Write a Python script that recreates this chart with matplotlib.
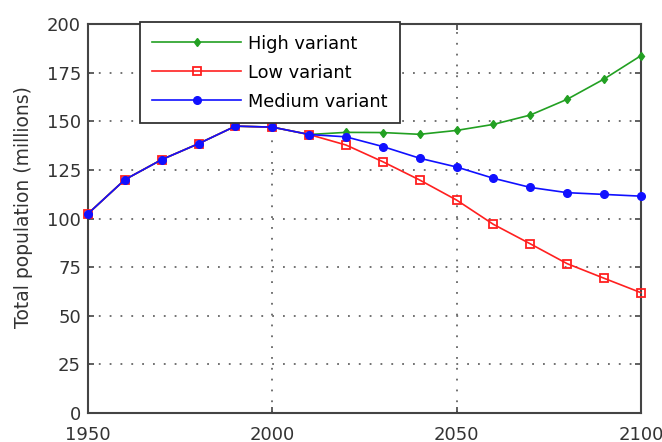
import numpy as np
import matplotlib.pyplot as plt

plt.rcParams['font.family'] = ['DejaVu Sans']

years = [1950, 1960, 1970, 1980, 1990, 2000, 2010, 2020, 2030, 2040,
         2050, 2060, 2070, 2080, 2090, 2100]

medium = [102.5, 120, 130.3, 138.5, 147.5, 147, 143.2, 142, 137, 131,
          126.5, 120.7, 116, 113.3, 112.4, 111.5]
high = [102.5, 120, 130.3, 138.5, 147.5, 147, 143.2, 144.3, 144.2, 143.3,
        145.3, 148.4, 153.2, 161.3, 171.7, 183.7]
low = [102.5, 120, 130.3, 138.5, 147.5, 147, 143.2, 137.8, 129.2, 119.8,
       109.5, 97, 87, 76.8, 69.3, 61.9]

fig = plt.figure(figsize=(6.62, 4.42), dpi=100)
ax = fig.add_axes([0.133, 0.0656, 0.835, 0.880])

ax.plot(years, high, '-', color='#22a022', marker='d', markersize=4.5,
        linewidth=1.2, label='High variant', clip_on=False, zorder=3)
ax.plot(years, low, '-', color='#ff2020', marker='s', markersize=5.5,
        markerfacecolor='none', markeredgewidth=1.3, linewidth=1.2,
        label='Low variant', clip_on=False, zorder=4)
ax.plot(years, medium, '-', color='#1010ff', marker='o', markersize=5.5,
        linewidth=1.2, label='Medium variant', clip_on=False, zorder=5)

ax.set_xlim(1950, 2100)
ax.set_ylim(0, 200)
ax.set_xticks([1950, 2000, 2050, 2100])
ax.set_yticks(np.arange(0, 201, 25))
ax.tick_params(direction='in', length=4, width=1.2, labelsize=13,
               labelcolor='#333333', color='#444444')
ax.tick_params(axis='x', pad=9)
ax.tick_params(axis='y', pad=5)
ax.tick_params(top=True, right=True)
ax.grid(True, linestyle=(0, (1, 5)), color='#666666', linewidth=1.3)
for s in ax.spines.values():
    s.set_linewidth(1.5)
    s.set_color('#444444')

ax.set_ylabel('Total population (millions)', fontsize=13.5, color='#333333')
ax.yaxis.set_label_coords(-0.099, 0.53)

leg = ax.legend(loc='upper left', bbox_to_anchor=(0.094, 1.005),
                fontsize=12.8, fancybox=False, framealpha=1,
                edgecolor='#333333', borderpad=0.7, labelspacing=0.62,
                handlelength=5.0, handletextpad=0.35, borderaxespad=0)
leg.get_frame().set_linewidth(1.3)
leg.set_zorder(10)

plt.savefig('out.png', dpi=100)
